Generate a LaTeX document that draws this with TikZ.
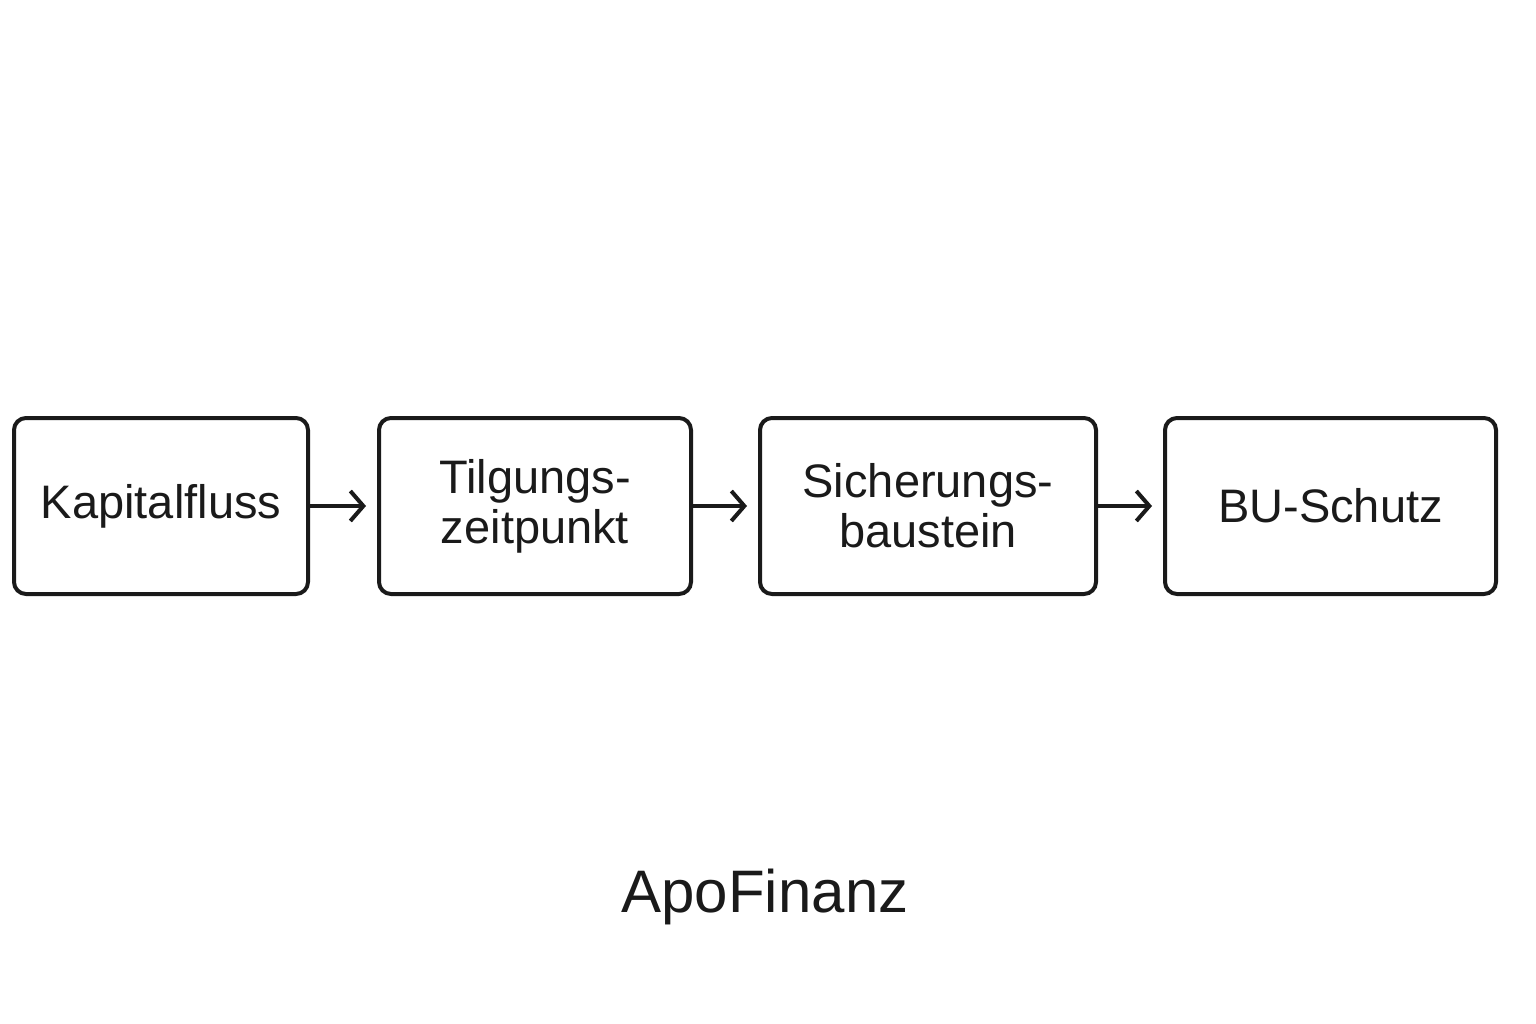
\documentclass[tikz,border=0pt]{standalone}
\usepackage{fontspec}
\setmainfont{Liberation Sans}
\usetikzlibrary{arrows.meta}
\definecolor{ink}{HTML}{1A1A1A}
\begin{document}
\begin{tikzpicture}[x=1pt,y=-1pt,
  stepbox/.style={draw=ink, line width=4pt, rounded corners=12pt, inner sep=0pt, anchor=north west, text=ink, align=center, font=\fontsize{47}{50}\selectfont},
  conn/.style={draw=ink, line width=4pt, shorten >=11pt, -{Straight Barb[length=13pt,width=30pt,line width=4pt]}}]
\useasboundingbox (0,0) rectangle (1536,1024);
\node[stepbox, minimum width=294pt, minimum height=176pt] (a) at (12,416) {Kapitalfluss};
\node[stepbox, minimum width=312pt, minimum height=176pt] (b) at (377,416) {Tilgungs-\\zeitpunkt};
\node[stepbox, minimum width=336pt, minimum height=176pt] (c) at (758,416) {Sicherungs-\\baustein};
\node[stepbox, minimum width=331pt, minimum height=176pt] (d) at (1163,416) {BU-Schutz};
\draw[conn] (a.east) -- (b.west);
\draw[conn] (b.east) -- (c.west);
\draw[conn] (c.east) -- (d.west);
\node[text=ink, font=\fontsize{60}{64}\selectfont] (t) at (765,897) {ApoFinanz};
\end{tikzpicture}
\end{document}
